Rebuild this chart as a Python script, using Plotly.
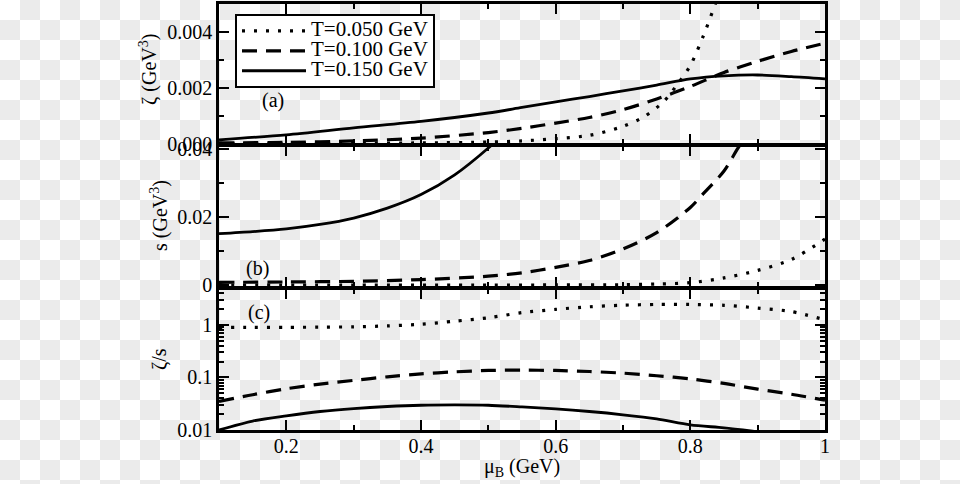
import base64
import plotly.graph_objects as go

# ---------------- data ----------------
labels = ["T=0.050 GeV", "T=0.100 GeV", "T=0.150 GeV"]

# panel (a): zeta (GeV^3)
zeta_mu_050 = [0.10, 0.20, 0.30, 0.40, 0.50, 0.55, 0.60, 0.65, 0.70, 0.73, 0.76, 0.78, 0.80, 0.82, 0.84, 0.86]
zeta_050 = [0.00001, 0.00001, 0.00002, 0.00003, 0.00006, 0.0001, 0.00018, 0.0003, 0.00062, 0.00095, 0.0015, 0.0021, 0.0028, 0.0039, 0.0052, 0.0066]
zeta_mu_100 = [0.10, 0.20, 0.30, 0.40, 0.50, 0.55, 0.60, 0.65, 0.70, 0.75, 0.80, 0.85, 0.90, 0.95, 1.00]
zeta_100 = [0.00003, 0.00005, 0.0001, 0.0002, 0.0004, 0.00055, 0.00074, 0.00094, 0.00122, 0.0016, 0.00205, 0.00255, 0.00295, 0.0033, 0.0036]
zeta_mu_150 = [0.10, 0.20, 0.30, 0.40, 0.50, 0.55, 0.60, 0.65, 0.70, 0.75, 0.80, 0.85, 0.90, 0.95, 1.00]
zeta_150 = [0.00014, 0.00032, 0.00057, 0.0008, 0.0011, 0.0013, 0.0015, 0.00169, 0.00189, 0.0021, 0.00232, 0.00243, 0.00246, 0.0024, 0.00232]

# panel (b): s (GeV^3)
s_mu_050 = [0.10, 0.30, 0.50, 0.60, 0.70, 0.75, 0.80, 0.85, 0.90, 0.95, 1.00]
s_050 = [0.00002, 0.00002, 0.00002, 0.00003, 0.0001, 0.0003, 0.0007, 0.0021, 0.0043, 0.0075, 0.0135]
s_mu_100 = [0.10, 0.20, 0.30, 0.40, 0.50, 0.55, 0.60, 0.65, 0.70, 0.75, 0.80, 0.82, 0.85, 0.87, 0.89]
s_100 = [0.0008, 0.0009, 0.0011, 0.0016, 0.0026, 0.0036, 0.0052, 0.0072, 0.0106, 0.0154, 0.0228, 0.027, 0.0335, 0.040, 0.046]
s_mu_150 = [0.10, 0.15, 0.20, 0.25, 0.30, 0.35, 0.40, 0.45, 0.50, 0.52]
s_150 = [0.0151, 0.0157, 0.0165, 0.0178, 0.0197, 0.0226, 0.0266, 0.0324, 0.0403, 0.0440]

# panel (c): zeta/s
r_mu = [0.10, 0.15, 0.20, 0.25, 0.30, 0.35, 0.40, 0.45, 0.50, 0.55, 0.60, 0.65, 0.70, 0.75, 0.80, 0.85, 0.90, 0.95, 1.00]
r_050 = [0.90, 0.90, 0.90, 0.91, 0.92, 0.96, 1.03, 1.18, 1.37, 1.72, 1.98, 2.22, 2.38, 2.46, 2.46, 2.37, 2.10, 1.80, 1.25]
r_100 = [0.035, 0.047, 0.061, 0.075, 0.088, 0.103, 0.117, 0.128, 0.136, 0.138, 0.136, 0.130, 0.121, 0.108, 0.094, 0.077, 0.060, 0.048, 0.037]
r_150 = [0.0100, 0.0148, 0.0186, 0.0225, 0.0256, 0.0280, 0.0296, 0.0300, 0.0296, 0.0275, 0.0252, 0.0225, 0.0195, 0.0163, 0.0125, 0.0110, 0.0093, 0.0078, 0.0065]

x_range = [0.1, 1.0]
x_tickvals = [0.2, 0.4, 0.6, 0.8, 1.0]
x_ticktext = ["0.2", "0.4", "0.6", "0.8", "1"]

# ---------------- layout geometry (pixels) ----------------
FONT = "Liberation Serif"
W, H = 960, 484
L, R, T, B = 219, 135, 4, 54
PW, PH = W - L - R, H - T - B
LW = 2.5  # axis line width


def px_x(px):
    return (px - L) / PW


def px_y(py):
    return (H - B - py) / PH


# panel borders (line centres) at y = 3, 145, 288, 431 px
dom_a = [px_y(145 - LW / 2), 1.0]
dom_b = [px_y(288 - LW / 2), px_y(145 + LW / 2)]
dom_c = [0.0, px_y(288 + LW / 2)]

# ---------------- figure ----------------
styles = [dict(dash="3px,9px", width=3.2), dict(dash="15px,9px", width=3.2), dict(dash="solid", width=2.8)]

fig = go.Figure()
panels = [
    ("x", "y", [(zeta_mu_050, zeta_050), (zeta_mu_100, zeta_100), (zeta_mu_150, zeta_150)]),
    ("x2", "y2", [(s_mu_050, s_050), (s_mu_100, s_100), (s_mu_150, s_150)]),
    ("x3", "y3", [(r_mu, r_050), (r_mu, r_100), (r_mu, r_150)]),
]
for k, (xa, ya, series) in enumerate(panels):
    for i, (xs, ys) in enumerate(series):
        fig.add_trace(go.Scatter(
            x=xs, y=ys, mode="lines", xaxis=xa, yaxis=ya,
            name=f'<span style="font-size:21px">{labels[i]}</span>',
            line=dict(color="black", shape="spline", smoothing=0.8, **styles[i]),
            showlegend=(k == 0)))

axis_common = dict(showline=True, linecolor="black", linewidth=LW, mirror="ticks",
                   ticks="inside", ticklen=10, tickwidth=2, tickcolor="black",
                   showgrid=False, zeroline=False, automargin=False,
                   tickfont=dict(family=FONT, size=20, color="black"))


def minor(vals, w=2):
    return dict(ticks="inside", ticklen=5, tickwidth=w, tickcolor="black", tickvals=vals, showgrid=False)


xa_common = dict(range=x_range, tickvals=x_tickvals, ticktext=x_ticktext,
                 minor=minor([0.3, 0.5, 0.7, 0.9]), **axis_common)

log_minor = [k * 10 ** e for e in (-2, -1, 0) for k in range(2, 10) if k * 10 ** e <= 5]

fig.update_layout(
    xaxis=dict(anchor="y", showticklabels=False, **xa_common),
    xaxis2=dict(anchor="y2", showticklabels=False, **xa_common),
    xaxis3=dict(anchor="y3", showticklabels=True, ticklabelstandoff=-4, **xa_common),
    yaxis=dict(anchor="x", domain=dom_a, range=[0, 0.005], tickvals=[0, 0.002, 0.004],
               ticktext=["0.000", "0.002", "0.004"], minor=minor([0.001, 0.003]), **axis_common),
    yaxis2=dict(anchor="x2", domain=dom_b, range=[-0.0005, 0.0408], tickvals=[0, 0.02, 0.04],
                ticktext=["0", "0.02", "0.04"], minor=minor([0.01, 0.03]), **axis_common),
    yaxis3=dict(anchor="x3", domain=dom_c, type="log", range=[-2, 0.68], tickvals=[0.01, 0.1, 1],
                ticktext=["0.01", "0.1", "1"], minor=minor(log_minor, 1.5), **axis_common),
)

# checkerboard page background (transparent-looking backdrop)
svg = ("<svg xmlns='http://www.w3.org/2000/svg' width='960' height='484'>"
       "<defs><pattern id='p' width='40' height='40' patternUnits='userSpaceOnUse'>"
       "<rect width='40' height='40' fill='#ffffff'/>"
       "<rect x='20' y='0' width='20' height='20' fill='#ebebeb'/>"
       "<rect x='0' y='20' width='20' height='20' fill='#ebebeb'/>"
       "</pattern></defs><rect width='960' height='484' fill='url(#p)'/></svg>")
bg = "data:image/svg+xml;base64," + base64.b64encode(svg.encode()).decode()
fig.add_layout_image(dict(source=bg, xref="paper", yref="paper",
                          x=-L / PW, y=1 + T / PH, sizex=W / PW, sizey=H / PH,
                          xanchor="left", yanchor="top", sizing="stretch", layer="below"))

tfont = dict(family=FONT, size=20, color="black")
annots = [
    dict(text="ζ (GeV<sup>3</sup>)", x=px_x(148), y=px_y(70), textangle=-90),
    dict(text="s (GeV<sup>3</sup>)", x=px_x(160), y=px_y(216), textangle=-90),
    dict(text="ζ/s", x=px_x(159), y=px_y(359), textangle=-90),
    dict(text="μ<sub>B</sub> (GeV)", x=px_x(522), y=px_y(467)),
    dict(text="(a)", x=px_x(273), y=px_y(100)),
    dict(text="(b)", x=px_x(257), y=px_y(268)),
    dict(text="(c)", x=px_x(259), y=px_y(312)),
]
for a in annots:
    fig.add_annotation(xref="paper", yref="paper", showarrow=False, xanchor="center",
                       yanchor="middle", font=tfont, **a)

fig.update_layout(
    width=W, height=H,
    margin=dict(l=L, r=R, t=T, b=B, autoexpand=False),
    paper_bgcolor="rgba(0,0,0,0)", plot_bgcolor="rgba(0,0,0,0)",
    font=dict(family=FONT, size=20, color="black"),
    legend=dict(x=px_x(235), y=px_y(14), xanchor="left", yanchor="top",
                bgcolor="white", bordercolor="black", borderwidth=2,
                font=dict(family=FONT, size=13, color="black"),
                itemwidth=64, tracegroupgap=0),
    showlegend=True,
)

fig.write_html("out.html", config={"displayModeBar": False},
               post_script="document.body.style.margin='0px';")
